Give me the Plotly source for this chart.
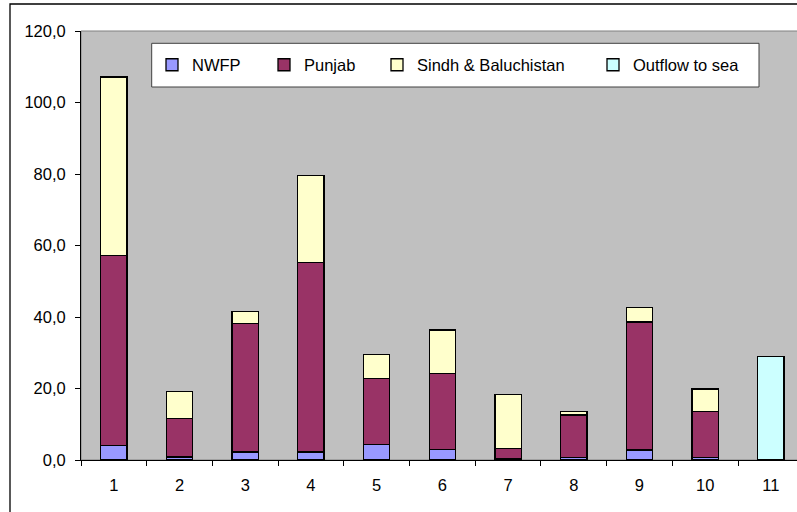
import plotly.graph_objects as go

categories = ["1", "2", "3", "4", "5", "6", "7", "8", "9", "10", "11"]
regions = categories[:10]
nwfp = [4.0, 0.8, 2.2, 2.2, 4.4, 2.9, 0.3, 0.7, 2.8, 0.7]
punjab = [53.3, 10.9, 36.0, 53.0, 18.4, 21.3, 3.0, 11.9, 35.8, 12.8]
sindh = [49.8, 7.5, 3.4, 24.4, 6.7, 12.2, 15.1, 1.0, 4.1, 6.4]
outflow_cat = ["11"]
outflow = [29.0]
ytick_vals = [0, 20, 40, 60, 80, 100, 120]
ytick_text = ["0,0", "20,0", "40,0", "60,0", "80,0", "100,0", "120,0"]

FONT = "Arial, Liberation Sans, sans-serif"
W, H = 797, 512
ML, MR, MT, MB = 81, 0, 31, 52
PW, PH = W - ML - MR, H - MT - MB


def px(x):
    return (x - ML) / PW


def py(y):
    return 1 - (y - MT) / PH


line = dict(color="black", width=1.3)
fig = go.Figure()
fig.add_trace(go.Bar(x=regions, y=nwfp, name="NWFP", marker=dict(color="#9999FF", line=line),
                     width=0.4, legend="legend", showlegend=True))
fig.add_trace(go.Bar(x=regions, y=punjab, name="Punjab", marker=dict(color="#993366", line=line),
                     width=0.4, legend="legend2", showlegend=True))
fig.add_trace(go.Bar(x=regions, y=sindh, name="Sindh & Baluchistan", marker=dict(color="#FFFFCC", line=line),
                     width=0.4, legend="legend3", showlegend=True))
fig.add_trace(go.Bar(x=outflow_cat, y=outflow, name="Outflow to sea", marker=dict(color="#CCFFFF", line=line),
                     width=0.4, legend="legend4", showlegend=True))

legend_common = dict(bgcolor="rgba(0,0,0,0)", borderwidth=0, font=dict(family=FONT, size=16.5, color="black"),
                     yanchor="middle", xanchor="left", y=py(65), orientation="h", itemwidth=30, visible=True)

fig.update_layout(
    width=W, height=H,
    margin=dict(l=ML, r=MR, t=MT, b=MB, pad=0),
    paper_bgcolor="white",
    plot_bgcolor="#C0C0C0",
    barmode="stack",
    showlegend=True,
    font=dict(family=FONT, size=16.5, color="black"),
    legend=dict(x=px(152), **legend_common),
    legend2=dict(x=px(264), **legend_common),
    legend3=dict(x=px(377), **legend_common),
    legend4=dict(x=px(593), **legend_common),
    xaxis=dict(
        type="category", categoryorder="array", categoryarray=categories,
        range=[-0.5, -0.5 + PW / 65.7],
        showline=True, linecolor="black", linewidth=1,
        ticks="outside", tickson="boundaries", ticklen=5, tickcolor="black",
        showgrid=False, zeroline=False, ticklabelstandoff=10,
        tickfont=dict(family=FONT, size=16.5, color="black"),
    ),
    yaxis=dict(
        range=[0, 120], tickvals=ytick_vals, ticktext=ytick_text,
        showline=True, linecolor="black", linewidth=1,
        ticks="outside", ticklen=5, tickcolor="black",
        showgrid=False, zeroline=False, ticklabelstandoff=6,
        tickfont=dict(family=FONT, size=16.5, color="black"),
    ),
    shapes=[
        dict(type="rect", xref="paper", yref="paper", x0=0, x1=1.1, y0=0, y1=1,
             line=dict(color="#808080", width=1), layer="below"),
        dict(type="rect", xref="paper", yref="paper", x0=px(151.7), x1=px(759), y0=py(87), y1=py(43.3),
             line=dict(color="#404040", width=1), fillcolor="white", layer="above"),
        dict(type="rect", xref="paper", yref="paper", x0=px(10), x1=px(820), y0=py(530), y1=py(4),
             line=dict(color="black", width=1.3), layer="above"),
    ],
)

fig.write_html("out.html")
